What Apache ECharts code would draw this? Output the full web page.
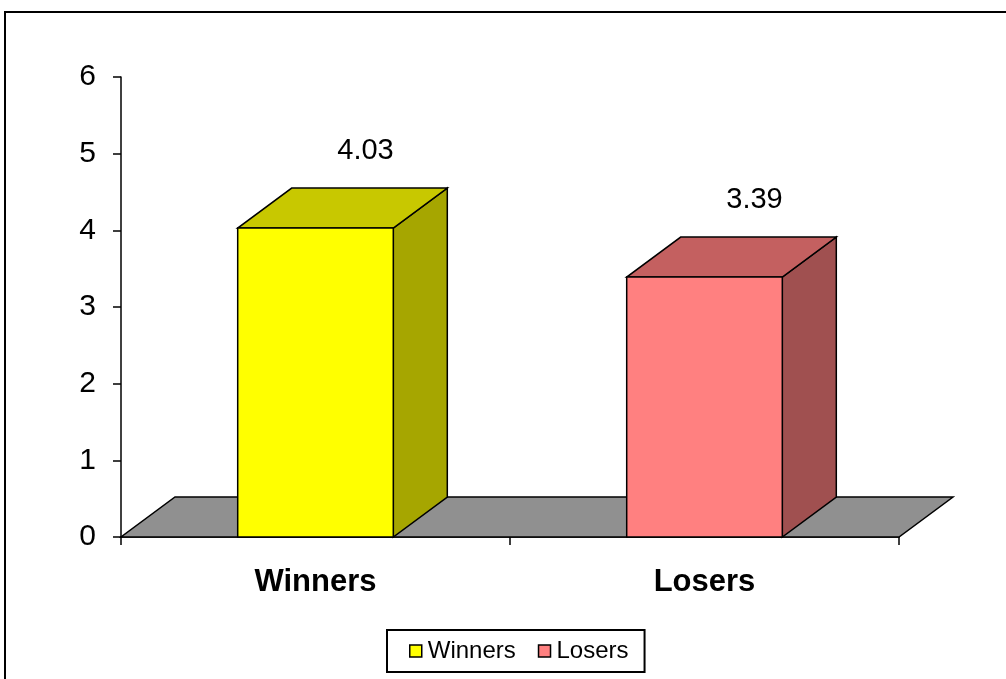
<!DOCTYPE html>
<html>
<head>
<meta charset="utf-8">
<script src="https://cdn.jsdelivr.net/npm/echarts@6/dist/echarts.min.js"></script>
<style>html,body{margin:0;padding:0;background:#fff}#c{width:1006px;height:679px}</style>
</head>
<body>
<div id="c"></div>
<script>
var categories = ['Winners', 'Losers'];
var values = [4.03, 3.39];
var yTicks = [0, 1, 2, 3, 4, 5, 6];

var frontColors = ['#FFFF00', '#FF8080'];
var topColors = ['#C8C800', '#C46060'];
var sideColors = ['#A6A600', '#A05050'];
var DX = 54, DY = -40;
var FONT = 'Liberation Sans, Arial, sans-serif';

var chart = echarts.init(document.getElementById('c'));

function floorRender(params, api) {
  var cs = params.coordSys;
  var x0 = cs.x, x1 = cs.x + cs.width, y = cs.y + cs.height;
  return {
    type: 'polygon',
    shape: { points: [[x0, y], [x1, y], [x1 + DX, y + DY], [x0 + DX, y + DY]] },
    style: { fill: '#909090', stroke: '#000', lineWidth: 1.5 }
  };
}

function barRender(params, api) {
  var idx = api.value(0), v = api.value(1);
  var base = api.coord([idx, 0]);
  var top = api.coord([idx, v]);
  var band = api.size([1, 0])[0];
  var w = band * 0.4;
  var xa = base[0] - w / 2, xb = base[0] + w / 2;
  var yt = top[1], yb = base[1];
  var st = { stroke: '#000', lineWidth: 1.5 };
  return {
    type: 'group',
    children: [
      { type: 'polygon', shape: { points: [[xb, yt], [xb + DX, yt + DY], [xb + DX, yb + DY], [xb, yb]] },
        style: Object.assign({ fill: sideColors[idx] }, st) },
      { type: 'polygon', shape: { points: [[xa, yt], [xb, yt], [xb + DX, yt + DY], [xa + DX, yt + DY]] },
        style: Object.assign({ fill: topColors[idx] }, st) },
      { type: 'rect', shape: { x: xa, y: yt, width: w, height: yb - yt },
        style: Object.assign({ fill: frontColors[idx] }, st) },
      { type: 'text', x: base[0] + DX - 4, y: yt + DY - 37,
        style: { text: v.toFixed(2), fontSize: 29, fontFamily: FONT,
          fill: '#000', align: 'center', verticalAlign: 'middle' } }
    ]
  };
}

var series = [{
  type: 'custom', name: 'floor', renderItem: floorRender, data: [[0, 0]], silent: true, z: 1
}];
categories.forEach(function (c, i) {
  series.push({
    type: 'custom', name: c, renderItem: barRender, z: 2 + i,
    itemStyle: { color: frontColors[i] },
    encode: { x: 0, y: 1 },
    data: [[i, values[i]]]
  });
});

chart.setOption({
  animation: false,
  graphic: [{
    type: 'rect', shape: { x: 5, y: 12, width: 1010, height: 700 },
    style: { fill: 'none', stroke: '#000', lineWidth: 2 }, z: 0, silent: true
  }],
  grid: { left: 121, top: 77, width: 778, height: 460, containLabel: false },
  legend: {
    data: categories,
    left: 387, top: 630,
    padding: [9, 16, 9, 22],
    itemGap: 22, itemWidth: 12, itemHeight: 12,
    icon: 'rect',
    backgroundColor: '#fff', borderColor: '#000', borderWidth: 2, borderRadius: 0,
    itemStyle: { borderColor: '#000', borderWidth: 1.5 },
    textStyle: { fontSize: 24, color: '#000', fontFamily: FONT, padding: [0, 0, 0, 1] }
  },
  xAxis: {
    type: 'category', data: categories, boundaryGap: true,
    axisLine: { lineStyle: { color: '#000', width: 1.5 } },
    axisTick: { show: true, length: 8, lineStyle: { color: '#000', width: 1.5 } },
    axisLabel: { fontSize: 31, fontWeight: 'bold', color: '#000', margin: 30, fontFamily: FONT },
    splitLine: { show: false }
  },
  yAxis: {
    type: 'value', min: yTicks[0], max: yTicks[yTicks.length - 1], interval: 1,
    axisLine: { show: true, lineStyle: { color: '#000', width: 1.5 } },
    axisTick: { show: true, length: 8, lineStyle: { color: '#000', width: 1.5 } },
    axisLabel: { fontSize: 30, color: '#000', margin: 25, fontFamily: FONT, padding: [4, 0, 0, 0] },
    splitLine: { show: false }
  },
  series: series
});
</script>
</body>
</html>
